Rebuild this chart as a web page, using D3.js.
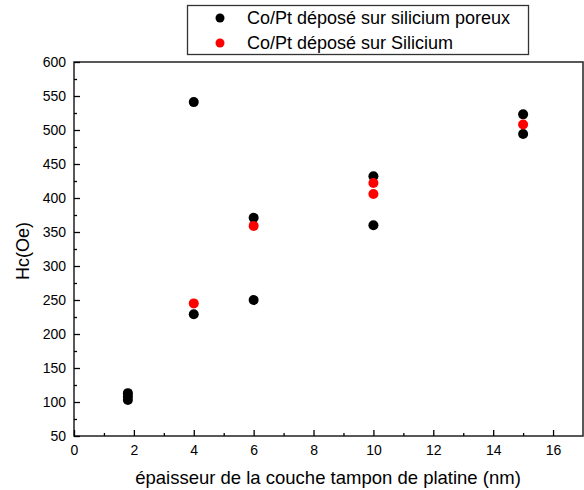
<!DOCTYPE html>
<html><head><meta charset="utf-8">
<script src="https://cdn.jsdelivr.net/npm/d3@7"></script>
<style>body{margin:0;background:#fff}svg{display:block;font-family:"Liberation Sans",Arial,sans-serif}</style>
</head><body><svg id="c" width="584" height="490"></svg>
<script>
const seriesNames = ["Co/Pt déposé sur silicium poreux", "Co/Pt déposé sur Silicium"];
const seriesColors = ["#000000", "#ff0000"];
const poreuxX = [1.8, 1.8, 1.8, 4, 4, 6, 6, 10, 10, 15, 15];
const poreuxY = [103, 108, 113, 541, 229, 371, 250, 432, 360, 523, 494];
const siliciumX = [4, 6, 10, 10, 15];
const siliciumY = [245, 359, 422, 406, 508];
const xTicks = [0, 2, 4, 6, 8, 10, 12, 14, 16];
const yTicks = [50, 100, 150, 200, 250, 300, 350, 400, 450, 500, 550, 600];
const xTitle = "épaisseur de la couche tampon de platine (nm)";
const yTitle = "Hc(Oe)";

const svg = d3.select("#c");
const L = 74, R = 583, T = 62, B = 436;
const x = d3.scaleLinear().domain([0, 17]).range([L, R]);
const y = d3.scaleLinear().domain([50, 600]).range([B, T]);

// frame
svg.append("rect").attr("x", L).attr("y", T).attr("width", R - L).attr("height", B - T)
  .attr("fill", "none").attr("stroke", "#222").attr("stroke-width", 1.5);

// minor ticks
const gx = svg.append("g").attr("transform", `translate(0,${B})`);
gx.call(d3.axisBottom(x).tickValues(d3.range(1, 17, 2)).tickSize(-3).tickFormat(""));
gx.call(g => g.select(".domain").remove());
const gx2 = svg.append("g").attr("transform", `translate(0,${B})`);
gx2.call(d3.axisBottom(x).tickValues(xTicks).tickSize(-6).tickPadding(10).tickFormat(d3.format("d")));
gx2.select(".domain").remove();
gx2.selectAll("text").attr("font-size", 14).attr("fill", "#000").attr("dy", "0.71em").attr("y", 9);

const gy = svg.append("g").attr("transform", `translate(${L},0)`);
gy.call(d3.axisLeft(y).tickValues(d3.range(75, 600, 50)).tickSize(-3).tickFormat(""));
gy.select(".domain").remove();
const gy2 = svg.append("g").attr("transform", `translate(${L},0)`);
gy2.call(d3.axisLeft(y).tickValues(yTicks).tickSize(-6).tickPadding(9).tickFormat(d3.format("d")));
gy2.select(".domain").remove();
gy2.selectAll("text").attr("font-size", 14).attr("fill", "#000").attr("x", -8);
svg.selectAll(".tick line").attr("stroke", "#000").attr("stroke-width", 1.3);

// titles
svg.append("text").attr("x", 328).attr("y", 484).attr("text-anchor", "middle")
  .attr("font-size", 18.5).attr("fill", "#000").text(xTitle);
svg.append("text").attr("transform", `translate(29,${(T + B) / 2 + 2}) rotate(-90)`).attr("text-anchor", "middle")
  .attr("font-size", 18).attr("fill", "#000").text(yTitle);

// points
const data = [
  poreuxX.map((v, i) => ({x: v, y: poreuxY[i]})),
  siliciumX.map((v, i) => ({x: v, y: siliciumY[i]}))
];
data.forEach((pts, s) => {
  svg.append("g").selectAll("circle").data(pts).join("circle")
    .attr("cx", d => x(d.x)).attr("cy", d => y(d.y)).attr("r", 5)
    .attr("fill", seriesColors[s]);
});

// legend
svg.append("rect").attr("x", 187.5).attr("y", 5.5).attr("width", 341).attr("height", 49)
  .attr("fill", "#fff").attr("stroke", "#333").attr("stroke-width", 1.3);
seriesNames.forEach((n, i) => {
  const yy = 18 + i * 25;
  svg.append("circle").attr("cx", 220).attr("cy", yy).attr("r", 4.5).attr("fill", seriesColors[i]);
  svg.append("text").attr("x", 247).attr("y", yy).attr("dy", "0.35em")
    .attr("font-size", 18).attr("fill", "#000").text(n);
});
</script></body></html>
